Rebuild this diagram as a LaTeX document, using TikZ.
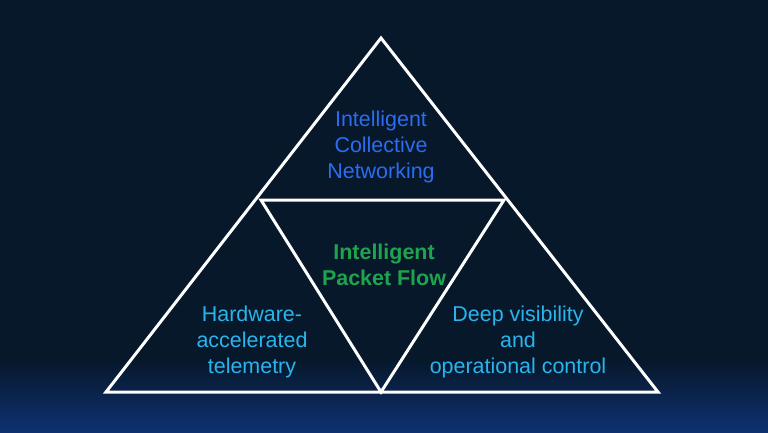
\documentclass[tikz,border=0pt]{standalone}
\usepackage{fontspec}
\setmainfont{Liberation Sans}
\definecolor{bgdark}{HTML}{07182B}
\definecolor{bgblue}{HTML}{0E3170}
\definecolor{topblue}{HTML}{2B6CF2}
\definecolor{midgreen}{HTML}{1EA34E}
\definecolor{sidecyan}{HTML}{2AB4EE}
\tikzset{
  label/.style={align=center, font=\fontsize{6.1pt}{7.3pt}\selectfont},
  edge/.style={white, line width=0.85pt, line join=miter}
}
\begin{document}
\begin{tikzpicture}[x=0.01cm, y=-0.01cm]
\fill [bgdark] (0,0) rectangle (768,432);
\shade [top color=bgdark, bottom color=bgblue] (0,360) rectangle (768,432);
\useasboundingbox (0,0) rectangle (768,432);
% outer and inner triangles
\coordinate (apex) at (381,38);
\coordinate (bl) at (106,392);
\coordinate (br) at (658,392);
\coordinate (ml) at (261,200);
\coordinate (mr) at (504,200);
\coordinate (mb) at (381,392);
\draw [edge] (apex) -- (br) -- (bl) -- cycle;
\draw [edge] (ml) -- (mr) -- (mb) -- cycle;
% texts
\node[label, text=topblue] (top) at (381,147) {Intelligent\\Collective\\Networking};
\node[label, text=midgreen, font=\fontsize{6.1pt}{7.3pt}\selectfont\bfseries] (mid) at (384,265) {Intelligent\\Packet Flow};
\node[label, text=sidecyan] (left) at (252,342) {Hardware-\\accelerated\\telemetry};
\node[label, text=sidecyan] (right) at (518,342) {Deep visibility\\and\\operational control};
\end{tikzpicture}
\end{document}
